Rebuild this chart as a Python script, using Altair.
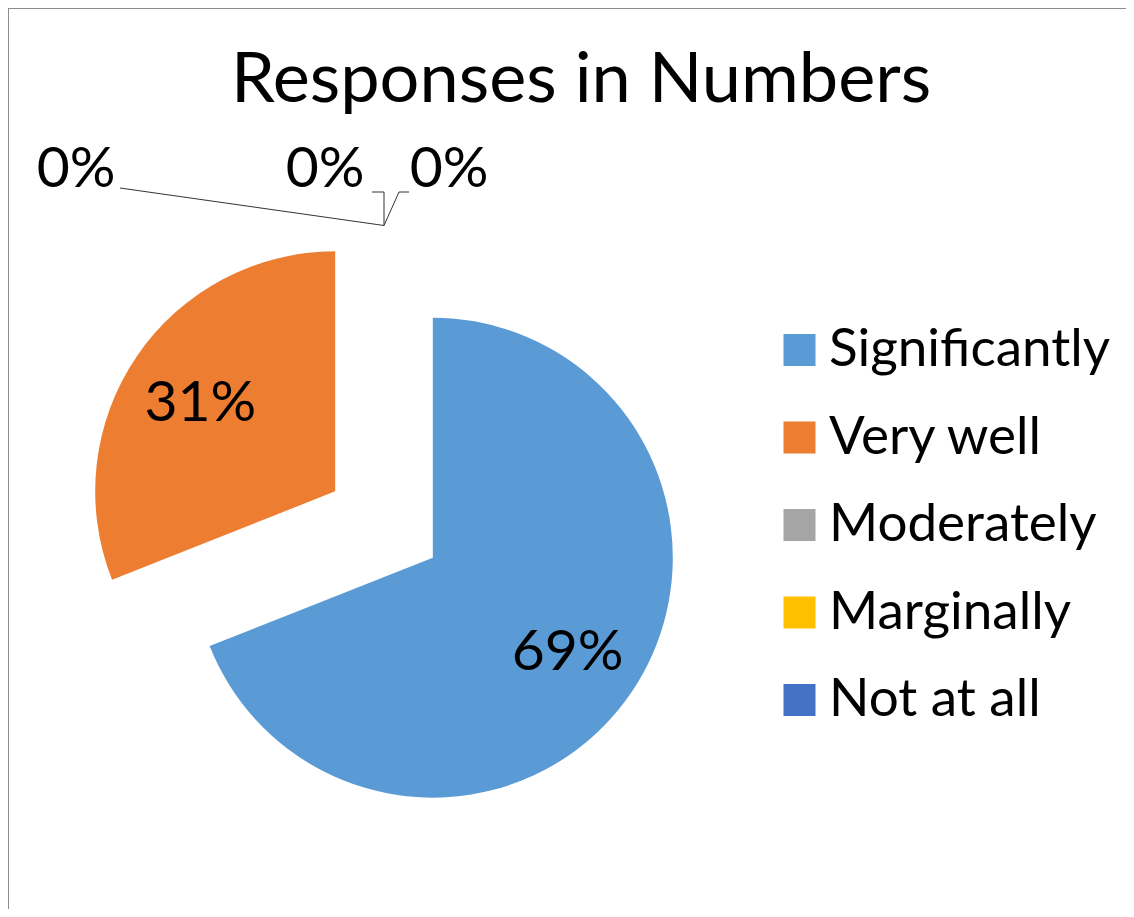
import altair as alt
import pandas as pd

# ---- data ----
categories = ["Significantly", "Very well", "Moderately", "Marginally", "Not at all"]
values = [69, 31, 0, 0, 0]
colors = ["#5B9BD5", "#ED7D31", "#A5A5A5", "#FFC000", "#4472C4"]
title_text = "Responses in Numbers"

# ---- layout / style ----
W, H = 1118, 901
CX, CY, R, EXPLODE = 376, 516.5, 240, 59
LABEL_DIST = 163
FONT = "Lato"
TITLE_SIZE = 70.3
LEGEND_SIZE = 53
LABEL_SIZE = 57
LABEL_DY = 4
# label positions of zero-size slices (Excel-style callouts) and their leader elbows
ZERO_LABEL_POS = {"Moderately": (68, 158), "Marginally": (317, 158), "Not at all": (441, 158)}
ZERO_LEADER = {
    "Moderately": [(112, 180)],
    "Marginally": [(364, 184), (376, 184)],
    "Not at all": [(401, 184), (391, 184)],
}

df = pd.DataFrame({"category": categories, "value": values, "order": list(range(len(categories)))})

pie = (
    alt.Chart(df)
    .transform_joinaggregate(total="sum(value)")
    .transform_window(cum="sum(value)", sort=[alt.SortField("order")], frame=[None, 0])
    .transform_calculate(t0="2*PI*(datum.cum - datum.value)/datum.total")
    .transform_calculate(t1="2*PI*datum.cum/datum.total")
    .transform_calculate(mid="(datum.t0 + datum.t1)/2")
    .transform_calculate(cx=f"{CX} + {EXPLODE}*sin(datum.mid)")
    .transform_calculate(cy=f"{CY} - {EXPLODE}*cos(datum.mid)")
    .transform_calculate(lx=f"datum.cx + {LABEL_DIST}*sin(datum.mid)")
    .transform_calculate(ly=f"datum.cy - {LABEL_DIST}*cos(datum.mid)")
    .transform_calculate(pct="format(datum.value/datum.total, '.0%')")
)

arcs = pie.mark_arc(outerRadius=R, strokeWidth=0).encode(
    x=alt.X("cx:Q", scale=None, axis=None),
    y=alt.Y("cy:Q", scale=None, axis=None),
    theta=alt.Theta("t0:Q", scale=None),
    theta2="t1:Q",
    color=alt.Color(
        "category:N",
        sort=categories,
        scale=alt.Scale(domain=categories, range=colors),
        legend=alt.Legend(
            orient="none",
            legendX=765,
            legendY=315.5,
            title=None,
            symbolType="square",
            symbolSize=1024,
            symbolStrokeWidth=0,
            labelFont=FONT,
            labelFontSize=LEGEND_SIZE,
            labelColor="black",
            labelOffset=3,
            rowPadding=33.5,
            padding=0,
            labelLimit=0,
        ),
    ),
)

inside_labels = pie.transform_filter("datum.value > 0").mark_text(
    font=FONT, fontSize=LABEL_SIZE, align="center", baseline="middle", color="black", dy=LABEL_DY
).encode(
    x=alt.X("lx:Q", scale=None, axis=None),
    y=alt.Y("ly:Q", scale=None, axis=None),
    text="pct:N",
)

# zero-slice callouts
anchor = (CX, CY - EXPLODE - R)
zero_rows = []
line_rows = []
for cat, val in zip(categories, values):
    if val == 0:
        lx, ly = ZERO_LABEL_POS[cat]
        zero_rows.append({"category": cat, "lx": lx, "ly": ly, "text": f"{val:.0f}%"})
        pts = ZERO_LEADER[cat] + [anchor]
        for i, (px, py) in enumerate(pts):
            line_rows.append({"category": cat, "seq": i, "px": px, "py": py})
zdf = pd.DataFrame(zero_rows)
ldf = pd.DataFrame(line_rows)

zero_labels = alt.Chart(zdf).mark_text(
    font=FONT, fontSize=LABEL_SIZE, align="center", baseline="middle", color="black", dy=LABEL_DY
).encode(
    x=alt.X("lx:Q", scale=None, axis=None),
    y=alt.Y("ly:Q", scale=None, axis=None),
    text="text:N",
)

leaders = alt.Chart(ldf).mark_line(color="#333333", strokeWidth=1).encode(
    x=alt.X("px:Q", scale=None, axis=None),
    y=alt.Y("py:Q", scale=None, axis=None),
    detail="category:N",
    order="seq:Q",
)

title = alt.Chart(pd.DataFrame({"t": [title_text]})).mark_text(
    font=FONT, fontSize=TITLE_SIZE, align="center", baseline="alphabetic", color="black"
).encode(text="t:N", x=alt.value(573), y=alt.value(94))

frame_df = pd.DataFrame({"a": [0]})
left_border = alt.Chart(frame_df).mark_rule(color="#8c8c8c", strokeWidth=1).encode(
    x=alt.value(0.5), y=alt.value(0), y2=alt.value(H)
)
top_border = alt.Chart(frame_df).mark_rule(color="#8c8c8c", strokeWidth=1).encode(
    y=alt.value(0.5), x=alt.value(0), x2=alt.value(W)
)

chart = (
    alt.layer(left_border, top_border, arcs, inside_labels, leaders, zero_labels, title)
    .properties(width=W, height=H, autosize="none", padding=0, background="white")
    .configure_view(stroke=None)
)

chart.save("out.html", embed_options={"renderer": "svg", "actions": False})
